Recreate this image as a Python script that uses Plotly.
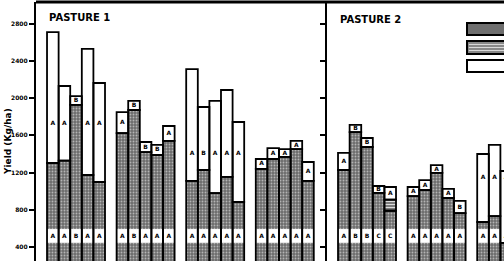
import plotly.graph_objects as go

# ---------------- data ----------------
# Pasture 1: 4 groups x 5 bars
p1_gray = [1303, 1328, 1927, 1174, 1099,
           1625, 1873, 1421, 1389, 1540,
           1110, 1228, 980, 1153, 884,
           1239, 1346, 1368, 1453, 1110]
p1_stripe = [0, 0, 0, 0, 0,
             0, 0, 0, 0, 0,
             0, 0, 0, 0, 0,
             0, 0, 0, 0, 0]
p1_total = [2711, 2131, 2023, 2529, 2163,
            1851, 1970, 1529, 1497, 1701,
            2313, 1905, 1970, 2088, 1744,
            1346, 1464, 1453, 1540, 1314]
p1_top_letters = ["A", "A", "B", "A", "A",
                  "A", "B", "B", "B", "A",
                  "A", "B", "A", "A", "A",
                  "A", "A", "A", "A", "A"]
p1_bottom_letters = ["A", "A", "B", "A", "A",
                     "A", "B", "A", "A", "A",
                     "A", "A", "A", "A", "A",
                     "A", "A", "A", "A", "A"]
p1_label_level = [1733, None, 1410, None]

# Pasture 2: visible part (the rest is cut off by the picture edge)
p2_gray = [1228, 1636, 1475, 981, 790,
           948, 1013, 1196, 927, 765,
           669, 733, 445]
p2_stripe = [0, 0, 0, 0, 120,
             0, 0, 0, 0, 0,
             0, 0, 0]
p2_total = [1411, 1712, 1572, 1056, 1045,
            1045, 1120, 1281, 1024, 895,
            1400, 1497, 1217]
p2_top_letters = ["A", "B", "B", "B", "A",
                  "A", "A", "A", "A", "B",
                  "A", "A", "A"]
p2_bottom_letters = ["A", "B", "B", "C", "C",
                     "A", "A", "A", "A", "A",
                     "A", "A", "A"]
p2_label_level = [None, None, 1142, None]

y_ticks = [400, 800, 1200, 1600, 2000, 2400, 2800]
panel_titles = ["PASTURE 1", "PASTURE 2"]
y_title = "Yield (Kg/ha)"

# ---------------- styling ----------------
BAND_LO, BAND_HI, BAND_TXT = 445, 593, 518
FONT = "DejaVu Sans"
gray_marker = dict(color="#767676",
                   pattern=dict(shape=".", bgcolor="#6c6c6c", fgcolor="#b4b4b4",
                                size=3, solidity=0.3, fillmode="replace"),
                   line=dict(width=0))
stripe_marker = dict(color="#8c8c8c",
                     pattern=dict(shape="-", bgcolor="#7c7c7c", fgcolor="#dcdcdc",
                                  size=3, solidity=0.35, fillmode="replace"),
                     line=dict(width=0))
white_marker = dict(color="white", line=dict(width=0))
outline = dict(color="rgba(0,0,0,0)", line=dict(color="black", width=1.8))

fig = go.Figure()


def add_panel(gray, stripe, total, top_letters, bottom_letters, levels, xa, ya):
    n = len(gray)
    xs = [6 * (i // 5) + i % 5 for i in range(n)]
    white_base = [g + s for g, s in zip(gray, stripe)]
    white_h = [t - b for t, b in zip(total, white_base)]
    common = dict(xaxis=xa, yaxis=ya, width=1, hoverinfo="skip", showlegend=False)
    # fills
    fig.add_trace(go.Bar(x=xs, y=gray, base=[0] * n, marker=gray_marker, **common))
    sx = [x for x, s in zip(xs, stripe) if s > 0]
    sy = [s for s in stripe if s > 0]
    sb = [g for g, s in zip(gray, stripe) if s > 0]
    if sx:
        fig.add_trace(go.Bar(x=sx, y=sy, base=sb, marker=stripe_marker, **common))
    fig.add_trace(go.Bar(x=xs, y=white_h, base=white_base, marker=white_marker, **common))
    fig.add_trace(go.Bar(x=xs, y=[BAND_HI - BAND_LO] * n, base=[BAND_LO] * n,
                         marker=white_marker, **common))
    # outlines
    fig.add_trace(go.Bar(x=xs, y=gray, base=[0] * n, marker=outline, **common))
    if sx:
        fig.add_trace(go.Bar(x=sx, y=sy, base=sb, marker=outline, **common))
    fig.add_trace(go.Bar(x=xs, y=white_h, base=white_base, marker=outline, **common))
    # letters
    ly = []
    for i in range(n):
        lvl = levels[i // 5]
        if white_h[i] > 400 and lvl is not None:
            ly.append(lvl)
        else:
            ly.append(white_base[i] + white_h[i] / 2)
    tfont = dict(family=FONT, size=6, color="black", weight="bold")
    fig.add_trace(go.Scatter(x=xs, y=ly, text=top_letters, mode="text",
                             textfont=tfont, xaxis=xa, yaxis=ya,
                             hoverinfo="skip", showlegend=False))
    fig.add_trace(go.Scatter(x=xs, y=[BAND_TXT] * n, text=bottom_letters, mode="text",
                             textfont=tfont, xaxis=xa, yaxis=ya,
                             hoverinfo="skip", showlegend=False))


add_panel(p1_gray, p1_stripe, p1_total, p1_top_letters, p1_bottom_letters,
          p1_label_level, "x", "y")
add_panel(p2_gray, p2_stripe, p2_total, p2_top_letters, p2_bottom_letters,
          p2_label_level, "x2", "y2")

split = 291 / 468
yr = [249.5, 3034]
yax = dict(range=yr, tickvals=y_ticks, ticks="outside", ticklen=5, tickwidth=1.5,
           tickcolor="black", showline=True, linewidth=2.2, linecolor="black",
           showgrid=False, zeroline=False,
           tickfont=dict(family=FONT, size=6, color="black", weight="bold"))

fig.update_layout(
    width=504, height=261,
    margin=dict(l=36, r=0, t=2, b=0),
    paper_bgcolor="white", plot_bgcolor="white",
    barmode="overlay", showlegend=False,
    xaxis=dict(domain=[0, split], range=[-1.45, 23.64], visible=False),
    xaxis2=dict(domain=[split, 1], range=[-1.45, 13.81], visible=False),
    yaxis=dict(anchor="x", **yax),
    yaxis2=dict(anchor="x2", matches="y", **{**yax, "showticklabels": False}),
)


def py(p):
    return 1 - (p - 2) / 259


fig.add_annotation(text=panel_titles[0], xref="x", x=-0.5, xanchor="left",
                   yref="paper", y=py(17.5), yanchor="middle", showarrow=False,
                   font=dict(family=FONT, size=10, color="black", weight="bold"))
fig.add_annotation(text=panel_titles[1], xref="x2", x=-0.5, xanchor="left",
                   yref="paper", y=py(19.5), yanchor="middle", showarrow=False,
                   font=dict(family=FONT, size=10, color="black", weight="bold"))
fig.add_annotation(text=y_title, xref="paper", x=0, xshift=-28, xanchor="center",
                   yref="paper", y=py(142), yanchor="middle", textangle=-90,
                   showarrow=False,
                   font=dict(family=FONT, size=9, color="black", weight="bold"))

# top frame line
fig.add_shape(type="line", xref="paper", yref="paper", x0=0, x1=1.1, y0=1, y1=1,
              line=dict(color="black", width=3))

# legend swatches (text cut off by the picture edge)
lx0 = (467 - 36) / 468
fig.add_shape(type="rect", xref="paper", yref="paper", x0=lx0, x1=1.2,
              y0=py(35), y1=py(23), fillcolor="#6e6e6e",
              line=dict(color="black", width=2))
fig.add_shape(type="rect", xref="paper", yref="paper", x0=lx0, x1=1.2,
              y0=py(54), y1=py(41), fillcolor="#888888",
              line=dict(color="black", width=2))
for yy in [44.5, 47.5, 50.5]:
    fig.add_shape(type="line", xref="paper", yref="paper", x0=lx0 + 0.004, x1=1.2,
                  y0=py(yy), y1=py(yy), line=dict(color="#d8d8d8", width=1))
fig.add_shape(type="rect", xref="paper", yref="paper", x0=lx0, x1=1.2,
              y0=py(72), y1=py(60), fillcolor="white",
              line=dict(color="black", width=2))

fig.write_html("out.html")
